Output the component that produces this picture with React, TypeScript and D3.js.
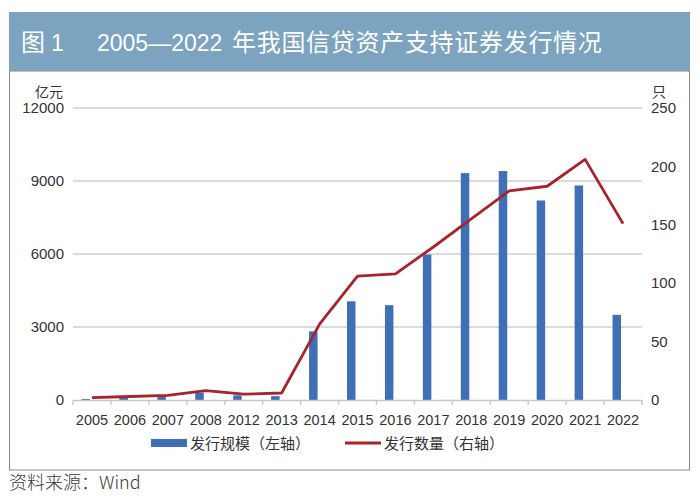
import { useRef, useEffect } from 'react';
import { scaleBand, scaleLinear, axisBottom, select, line } from 'd3';

const years = ['2005', '2006', '2007', '2008', '2012', '2013', '2014', '2015', '2016', '2017', '2018', '2019', '2020', '2021', '2022'];
// 发行规模（亿元，左轴）
const scale = [40, 115, 178, 302, 193, 158, 2820, 4056, 3897, 5977, 9323, 9410, 8200, 8815, 3500];
// 发行数量（只，右轴）
const counts = [2, 3, 4, 8, 5, 6, 65, 106, 108, 131, 155, 179, 183, 206, 151];
const leftTicks = [0, 3000, 6000, 9000, 12000];
const rightTicks = [0, 50, 100, 150, 200, 250];

const W = 700;
const H = 502;
const plot = { left: 73, right: 642, top: 108, bottom: 400 };
const numFont = '"Liberation Sans", Arial, sans-serif';
const cjkFont = '"Noto Sans CJK SC", sans-serif';

const App = () => {
  const ref = useRef(null);

  useEffect(() => {
    if (!ref.current) return;
    const svg = select(ref.current);
    svg.selectAll('*').remove();

    const x = scaleBand().domain(years).range([plot.left, plot.right]);
    const yL = scaleLinear().domain([0, 12000]).range([plot.bottom, plot.top]);
    const yR = scaleLinear().domain([0, 250]).range([plot.bottom, plot.top]);
    const cx = (d: string) => (x(d) as number) + x.bandwidth() / 2;

    // title banner
    svg.append('rect').attr('x', 9).attr('y', 12).attr('width', 681).attr('height', 59).attr('fill', '#7ca3bf');
    svg.append('text').attr('x', 21).attr('y', 51).attr('fill', '#fff')
      .attr('font-family', cjkFont).attr('font-size', 24).text('图');
    svg.append('text').attr('x', 51).attr('y', 51).attr('fill', '#fff')
      .attr('font-family', numFont).attr('font-size', 23).text('1');
    svg.append('text').attr('x', 97).attr('y', 51).attr('fill', '#fff')
      .attr('font-family', numFont).attr('font-size', 23).text('2005—2022');
    svg.append('text').attr('x', 232).attr('y', 51).attr('fill', '#fff')
      .attr('font-family', cjkFont).attr('font-size', 24).attr('letter-spacing', 0.7)
      .text('年我国信贷资产支持证券发行情况');

    // frame
    svg.append('rect').attr('x', 9.5).attr('y', 71).attr('width', 680).attr('height', 399)
      .attr('fill', 'none').attr('stroke', '#8a8a8a').attr('stroke-width', 1);

    // gridlines
    svg.append('g').selectAll('line').data(leftTicks.slice(1)).join('line')
      .attr('x1', plot.left).attr('x2', plot.right)
      .attr('y1', (d) => yL(d)).attr('y2', (d) => yL(d))
      .attr('stroke', '#d0d0d0').attr('stroke-width', 1.6);

    // left ticks
    svg.append('g').selectAll('text').data(leftTicks).join('text')
      .attr('x', 64).attr('y', (d) => yL(d)).attr('dy', '0.35em')
      .attr('text-anchor', 'end').attr('font-family', numFont).attr('font-size', 15).attr('fill', '#333')
      .text((d) => String(d));
    // right ticks
    svg.append('g').selectAll('text').data(rightTicks).join('text')
      .attr('x', 651).attr('y', (d) => yR(d)).attr('dy', '0.35em')
      .attr('font-family', numFont).attr('font-size', 15).attr('fill', '#333')
      .text((d) => String(d));

    svg.append('text').attr('x', 63).attr('y', 97).attr('text-anchor', 'end')
      .attr('font-family', cjkFont).attr('font-size', 14).attr('fill', '#333').text('亿元');
    svg.append('text').attr('x', 652).attr('y', 97)
      .attr('font-family', cjkFont).attr('font-size', 14).attr('fill', '#333').text('只');

    // bars
    svg.append('g').selectAll('rect').data(years).join('rect')
      .attr('x', (d) => cx(d) - 10.5).attr('width', 8.5)
      .attr('y', (d, i) => yL(scale[i])).attr('height', (d, i) => plot.bottom - yL(scale[i]))
      .attr('fill', '#3f6fb5');

    // x axis
    const ax = svg.append('g').attr('transform', `translate(0,${plot.bottom})`)
      .call(axisBottom(x).tickSize(0).tickPadding(15));
    ax.select('.domain').attr('stroke', '#c8c8c8').attr('stroke-width', 1.6);
    ax.selectAll('.tick text').attr('font-family', numFont).attr('font-size', 14.5).attr('fill', '#333');
    svg.append('g').selectAll('line').data([...years.map((d) => x(d) as number), plot.right]).join('line')
      .attr('x1', (d) => d).attr('x2', (d) => d).attr('y1', plot.bottom).attr('y2', plot.bottom + 5)
      .attr('stroke', '#c8c8c8').attr('stroke-width', 1.4);

    // line
    const ln = line<number>().x((d, i) => cx(years[i])).y((d) => yR(d));
    svg.append('path').datum(counts).attr('d', ln).attr('fill', 'none')
      .attr('stroke', '#a8232b').attr('stroke-width', 2.8).attr('stroke-linejoin', 'round');

    // legend
    const lg = svg.append('g').attr('font-family', cjkFont).attr('font-size', 15).attr('fill', '#333');
    lg.append('rect').attr('x', 151).attr('y', 439).attr('width', 36).attr('height', 8).attr('fill', '#3f6fb5');
    lg.append('text').attr('x', 190).attr('y', 448.5).text('发行规模（左轴）');
    lg.append('line').attr('x1', 345).attr('x2', 381).attr('y1', 443).attr('y2', 443)
      .attr('stroke', '#a8232b').attr('stroke-width', 3);
    lg.append('text').attr('x', 384).attr('y', 448.5).text('发行数量（右轴）');

    // source
    svg.append('text').attr('x', 9).attr('y', 489).attr('font-family', cjkFont).attr('font-size', 18)
      .attr('font-weight', 300).attr('fill', '#3a3a3a').text('资料来源：Wind');
  }, []);

  return (
    <svg ref={ref} width={W} height={H} style={{ position: 'absolute', left: 0, top: 0, background: '#fff' }} />
  );
};

export default App;
